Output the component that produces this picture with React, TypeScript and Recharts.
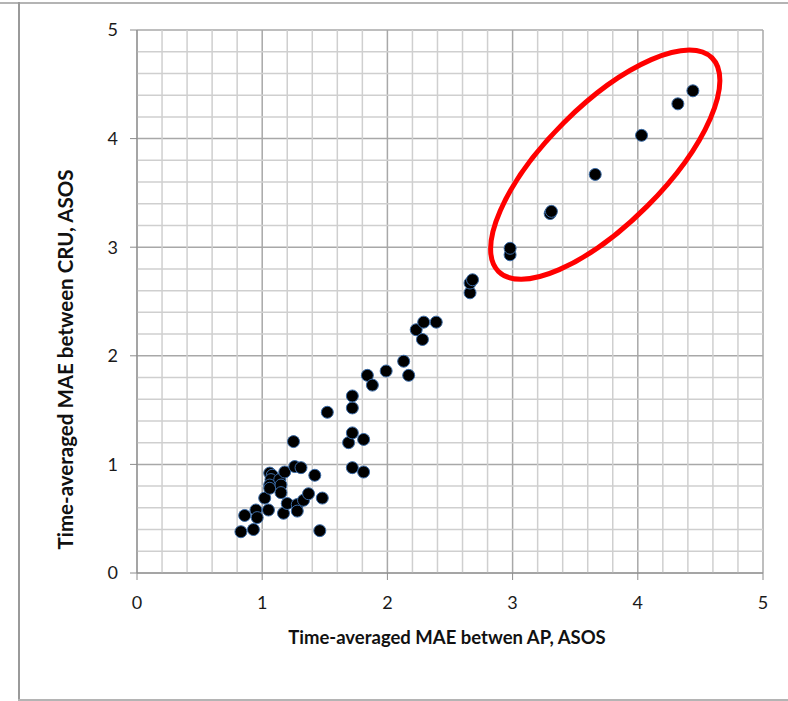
import {
  ScatterChart,
  Scatter,
  XAxis,
  YAxis,
  CartesianGrid,
  ReferenceLine,
  ReferenceDot,
} from "recharts";

// MAE between AP and ASOS (x) vs MAE between CRU and ASOS (y)
const apMae = [
  0.83, 0.86, 0.93, 0.95, 0.96, 1.02, 1.05, 1.06, 1.08, 1.07, 1.06, 1.06, 1.14, 1.15,
  1.15, 1.18, 1.17, 1.2, 1.25, 1.26, 1.31, 1.28, 1.28, 1.33, 1.37, 1.42, 1.48, 1.46,
  1.52, 1.69, 1.72, 1.72, 1.72, 1.72, 1.81, 1.81, 1.84, 1.88, 1.99, 2.13, 2.17, 2.23,
  2.28, 2.29, 2.39, 2.66, 2.66, 2.68, 2.98, 2.98, 3.3, 3.31, 3.66, 4.03, 4.32, 4.44,
];
const cruMae = [
  0.38, 0.53, 0.4, 0.58, 0.51, 0.69, 0.58, 0.92, 0.9, 0.86, 0.81, 0.78, 0.86, 0.81,
  0.74, 0.93, 0.55, 0.64, 1.21, 0.98, 0.97, 0.63, 0.57, 0.67, 0.73, 0.9, 0.69, 0.39,
  1.48, 1.2, 1.29, 1.52, 1.63, 0.97, 0.93, 1.23, 1.82, 1.73, 1.86, 1.95, 1.82, 2.24,
  2.15, 2.31, 2.31, 2.58, 2.67, 2.7, 2.93, 2.99, 3.31, 3.33, 3.67, 4.03, 4.32, 4.44,
];

const majorTicks = [0, 1, 2, 3, 4, 5];
const minorTicks = [
  0.2, 0.4, 0.6, 0.8, 1.2, 1.4, 1.6, 1.8, 2.2, 2.4, 2.6, 2.8, 3.2, 3.4, 3.6, 3.8, 4.2,
  4.4, 4.6, 4.8,
];

// highlighted group (centre in data units)
const highlight = { x: 3.74, y: 3.76 };

const points = apMae.map((x, i) => ({ x, y: cruMae[i] }));

const tickStyle = { fontSize: 18, fill: "#1a1a1a", fontFamily: "Lato, sans-serif" };
const titleStyle = {
  fontWeight: 700,
  fill: "#111",
  fontFamily: "Lato, sans-serif",
};

const Dot = (props: any) => (
  <circle cx={props.cx} cy={props.cy} r={6} fill="#000" stroke="#3a6aa5" strokeWidth={1} />
);

const Ring = (props: any) => (
  <ellipse
    cx={props.cx}
    cy={props.cy}
    rx={151}
    ry={59}
    transform={`rotate(-45 ${props.cx} ${props.cy})`}
    fill="none"
    stroke="#ff0000"
    strokeWidth={5}
  />
);

const YTitle = (props: any) => {
  const vb = props.viewBox;
  const cx = vb.x + 28;
  const cy = vb.y + vb.height / 2 + 58;
  return (
    <text x={cx} y={cy} transform={`rotate(-90 ${cx} ${cy})`} textAnchor="middle" dominantBaseline="central" style={{ ...titleStyle, fontSize: 20.5 }}>
      Time-averaged MAE between CRU, ASOS
    </text>
  );
};

const XTitle = (props: any) => {
  const vb = props.viewBox;
  const cx = vb.x + vb.width / 2 - 3;
  const cy = vb.y + 64;
  return (
    <text x={cx} y={cy} textAnchor="middle" dominantBaseline="central" style={{ ...titleStyle, fontSize: 18.5 }}>
      Time-averaged MAE betwen AP, ASOS
    </text>
  );
};

export default function App() {
  return (
    <div style={{ position: "absolute", left: 0, top: 0, width: 788, height: 701, background: "#fff", overflow: "hidden" }}>
      <div style={{ position: "absolute", left: 0, top: 2, width: 788, height: 2, background: "#b4b4b4" }} />
      <div style={{ position: "absolute", left: 18, top: 2, width: 2, height: 698, background: "#9a9a9a" }} />
      <div style={{ position: "absolute", left: 18, top: 699, width: 770, height: 2, background: "#b4b4b4" }} />
      <div style={{ position: "absolute", left: 0, top: 0 }}>
        <ScatterChart width={788} height={701} margin={{ top: 30, right: 25, left: 37, bottom: 88 }}>
          <CartesianGrid stroke="#a8a8a8" strokeWidth={1.5} />
          {minorTicks.map((v) => (
            <ReferenceLine key={"vx" + v} x={v} stroke="#cfcfcf" strokeWidth={1.5} />
          ))}
          {minorTicks.map((v) => (
            <ReferenceLine key={"hy" + v} y={v} stroke="#cfcfcf" strokeWidth={1.5} />
          ))}
          <XAxis
            type="number"
            dataKey="x"
            domain={[0, 5]}
            ticks={majorTicks}
            height={40}
            tickSize={7}
            tickMargin={16}
            tick={tickStyle}
            stroke="#8c8c8c"
            label={<XTitle />}
          />
          <YAxis
            type="number"
            dataKey="y"
            domain={[0, 5]}
            ticks={majorTicks}
            width={100}
            tickSize={7}
            tickMargin={12}
            tick={tickStyle}
            stroke="#8c8c8c"
            label={<YTitle />}
          />
          <Scatter data={points} shape={<Dot />} isAnimationActive={false} />
          <ReferenceDot x={highlight.x} y={highlight.y} shape={<Ring />} />
        </ScatterChart>
      </div>
    </div>
  );
}
